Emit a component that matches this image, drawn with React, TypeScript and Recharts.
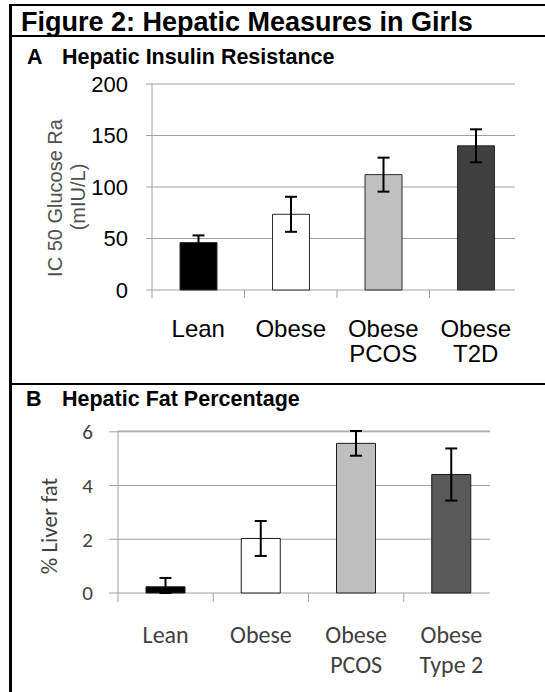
import React from 'react';
import { BarChart, Bar, XAxis, YAxis, CartesianGrid, ErrorBar, Cell } from 'recharts';

// ---- Panel A: Hepatic Insulin Resistance ----
const groupsA = ['Lean', 'Obese', 'Obese\nPCOS', 'Obese\nT2D'];
const ic50Values = [46, 73.5, 112, 140];
const ic50Errors = [7, 17, 16.5, 16];
const ticksA = [0, 50, 100, 150, 200];

// ---- Panel B: Hepatic Fat Percentage ----
const groupsB = ['Lean', 'Obese', 'Obese\nPCOS', 'Obese\nType 2'];
const liverFatValues = [0.23, 2.03, 5.57, 4.41];
const liverFatErrLow = [0.23, 0.65, 0.46, 0.97];
const liverFatErrHigh = [0.33, 0.65, 0.46, 0.97];
const ticksB = [0, 2, 4, 6];

const colorsA = ['#000000', '#ffffff', '#c0c0c0', '#404040'];
const colorsB = ['#000000', '#ffffff', '#bfbfbf', '#595959'];

const ARIAL = '"Liberation Sans", Arial, sans-serif';
const CALIBRI = 'Carlito, Lato, "Open Sans", sans-serif';
const GRID = '#a0a0a0';

const dataA = groupsA.map((g, i) => ({ group: g, value: ic50Values[i], err: ic50Errors[i] }));
const dataB = groupsB.map((g, i) => ({
  group: g,
  value: liverFatValues[i],
  err: [liverFatErrLow[i], liverFatErrHigh[i]],
}));

type TickOpts = {
  band: number;
  tickLen: number;
  first: number;
  gap: number;
  font: string;
  size: number;
  fill: string;
};

const makeXTick = (o: TickOpts) => (props: any) => {
  const { x, y, payload, index } = props;
  const lines = String(payload.value).split('\n');
  const bx = x - o.band / 2;
  return (
    <g key={`xt-${index}`}>
      <line x1={bx} x2={bx} y1={y} y2={y + o.tickLen} stroke={GRID} strokeWidth={1} />
      <text x={x} y={y + o.first} textAnchor="middle" fontFamily={o.font} fontSize={o.size} fill={o.fill}>
        {lines.map((l, i) => (
          <tspan key={i} x={x} dy={i === 0 ? 0 : o.gap}>
            {l}
          </tspan>
        ))}
      </text>
    </g>
  );
};

const makeGridLine = (shorten: number) => (p: any) => (
  <line
    key={`h-${p.index ?? p.y1}`}
    x1={p.x1}
    y1={p.y1}
    x2={p.x2 - shorten}
    y2={p.y2}
    stroke={GRID}
    strokeWidth={1}
  />
);

// Panel A geometry
const A_W = 545;
const A_H = 380;
const A_M = { top: 84, right: 23, bottom: 30, left: 92 };
const A_YW = 60;
const A_BAND = (A_W - A_M.left - A_M.right - A_YW) / groupsA.length;

// Panel B geometry
const B_W = 545;
const B_H = 308;
const B_M = { top: 47, right: 46, bottom: 39, left: 58 };
const B_YW = 60;
const B_BAND = (B_W - B_M.left - B_M.right - B_YW) / groupsB.length;

export default function App() {
  return (
    <div
      style={{
        position: 'absolute',
        left: 0,
        top: 0,
        width: 545,
        height: 692,
        background: '#ffffff',
        overflow: 'hidden',
      }}
    >
      <svg width={545} height={692} style={{ position: 'absolute', left: 0, top: 0 }}>
        <rect x={9} y={4} width={3} height={688} fill="#000" />
        <rect x={9} y={4} width={536} height={2} fill="#000" />
        <rect x={9} y={35} width={536} height={2} fill="#000" />
        <rect x={9} y={383} width={536} height={2} fill="#000" />
        <text x={21} y={31} fontFamily={ARIAL} fontWeight="bold" fontSize={27} fill="#000">
          Figure 2: Hepatic Measures in Girls
        </text>
        <text x={27} y={64} fontFamily={ARIAL} fontWeight="bold" fontSize={21.5} fill="#000">
          A
        </text>
        <text x={62} y={64} fontFamily={ARIAL} fontWeight="bold" fontSize={21.5} fill="#000">
          Hepatic Insulin Resistance
        </text>
        <text x={26} y={406} fontFamily={ARIAL} fontWeight="bold" fontSize={21.5} fill="#000">
          B
        </text>
        <text x={62} y={406} fontFamily={ARIAL} fontWeight="bold" fontSize={21.5} fill="#000">
          Hepatic Fat Percentage
        </text>
        <text
          x={62}
          y={198}
          transform="rotate(-90, 62, 198)"
          textAnchor="middle"
          fontFamily={ARIAL}
          fontSize={20}
          fill="#505050"
        >
          IC 50 Glucose Ra
        </text>
        <text
          x={85}
          y={197}
          transform="rotate(-90, 85, 197)"
          textAnchor="middle"
          fontFamily={ARIAL}
          fontSize={20}
          fill="#505050"
        >
          (mIU/L)
        </text>
        <text
          x={57}
          y={526}
          transform="rotate(-90, 57, 526)"
          textAnchor="middle"
          fontFamily={CALIBRI}
          fontSize={23}
          fill="#404040"
        >
          % Liver fat
        </text>
      </svg>

      <div style={{ position: 'absolute', left: 0, top: 0 }}>
        <BarChart width={A_W} height={A_H} data={dataA} margin={A_M}>
          <CartesianGrid vertical={false} horizontal={makeGridLine(7)} />
          <XAxis
            dataKey="group"
            height={60}
            axisLine={false}
            tickLine={false}
            tickSize={0}
            tickMargin={0}
            interval={0}
            tick={makeXTick({ band: A_BAND, tickLen: 8, first: 47, gap: 25, font: ARIAL, size: 24, fill: '#000' })}
          />
          <YAxis
            width={A_YW}
            domain={[0, 200]}
            ticks={ticksA}
            interval={0}
            axisLine={{ stroke: GRID }}
            tickLine={{ stroke: GRID }}
            tickSize={6}
            tickMargin={18}
            tick={{ fontFamily: ARIAL, fontSize: 22, fill: '#000' }}
          />
          <Bar dataKey="value" barSize={37} isAnimationActive={false}>
            {dataA.map((d, i) => (
              <Cell key={i} fill={colorsA[i]} stroke="#2a2a2a" strokeWidth={1} />
            ))}
            <ErrorBar dataKey="err" width={6} stroke="#000" strokeWidth={2} direction="y" />
          </Bar>
        </BarChart>
      </div>

      <div style={{ position: 'absolute', left: 0, top: 384 }}>
        <BarChart width={B_W} height={B_H} data={dataB} margin={B_M}>
          <CartesianGrid vertical={false} horizontal={makeGridLine(9)} />
          <XAxis
            dataKey="group"
            height={60}
            axisLine={false}
            tickLine={false}
            tickSize={0}
            tickMargin={0}
            interval={0}
            tick={makeXTick({ band: B_BAND, tickLen: 9, first: 50, gap: 30, font: CALIBRI, size: 24, fill: '#404040' })}
          />
          <YAxis
            width={B_YW}
            domain={[0, 6]}
            ticks={ticksB}
            interval={0}
            axisLine={{ stroke: GRID }}
            tickLine={{ stroke: GRID }}
            tickSize={9}
            tickMargin={16}
            tick={{ fontFamily: CALIBRI, fontSize: 21, fill: '#404040' }}
          />
          <Bar dataKey="value" barSize={39} isAnimationActive={false}>
            {dataB.map((d, i) => (
              <Cell key={i} fill={colorsB[i]} stroke="#1a1a1a" strokeWidth={1} />
            ))}
            <ErrorBar dataKey="err" width={6} stroke="#000" strokeWidth={2} direction="y" />
          </Bar>
        </BarChart>
      </div>
    </div>
  );
}
